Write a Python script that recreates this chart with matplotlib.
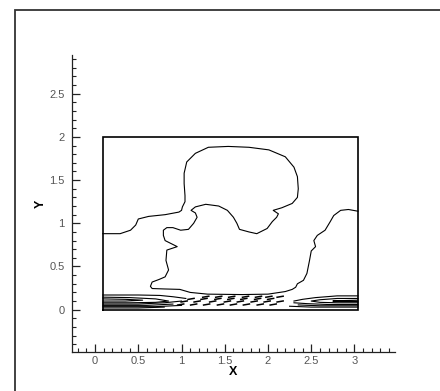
import matplotlib
matplotlib.use("Agg")
import matplotlib.pyplot as plt
from matplotlib.patches import Rectangle
from matplotlib.ticker import MultipleLocator

# Domain box
box_x = [0.09, 3.04]
box_y = [0.0, 2.0]

# Main contour line (left wall -> mushroom -> bottom -> right plume -> right wall)
main_x = [0.09, 0.29, 0.41, 0.47, 0.50, 0.62, 0.81, 0.97, 1.00, 1.01, 1.04, 1.04,
          1.03, 1.03, 1.06, 1.16, 1.31, 1.54, 1.78, 2.01, 2.20, 2.30, 2.34, 2.35,
          2.34, 2.28, 2.16, 2.06, 2.12, 2.10, 2.05, 1.99, 1.87, 1.78, 1.67, 1.64,
          1.60, 1.53, 1.43, 1.28, 1.16, 1.11, 1.16, 1.18, 1.14, 1.08, 0.99, 0.90,
          0.83, 0.79, 0.79, 0.81, 0.89, 0.95, 0.83, 0.82, 0.85, 0.81, 0.74, 0.66,
          0.64, 0.66, 0.80, 0.98, 1.10, 1.30, 1.70, 2.00, 2.20, 2.28, 2.32, 2.34,
          2.41, 2.45, 2.48, 2.50, 2.55, 2.53, 2.57, 2.66, 2.72, 2.76, 2.84, 2.93, 3.04]
main_y = [0.88, 0.88, 0.92, 0.98, 1.05, 1.08, 1.10, 1.13, 1.15, 1.19, 1.25, 1.32,
          1.46, 1.58, 1.71, 1.81, 1.88, 1.89, 1.88, 1.85, 1.77, 1.65, 1.54, 1.40,
          1.30, 1.23, 1.18, 1.15, 1.11, 1.07, 1.02, 0.94, 0.88, 0.90, 0.93, 1.00,
          1.07, 1.15, 1.20, 1.22, 1.19, 1.15, 1.12, 1.07, 1.00, 0.93, 0.92, 0.95,
          0.95, 0.92, 0.86, 0.80, 0.76, 0.73, 0.69, 0.57, 0.46, 0.38, 0.35, 0.32,
          0.27, 0.245, 0.24, 0.235, 0.20, 0.18, 0.175, 0.18, 0.21, 0.235, 0.26, 0.30,
          0.34, 0.42, 0.57, 0.68, 0.73, 0.80, 0.86, 0.92, 1.02, 1.09, 1.15, 1.16, 1.14]

# Near-wall contour lines, left group
band_left = [
    ([0.09, 0.50, 0.75, 0.90, 1.05], [0.17, 0.17, 0.165, 0.15, 0.13]),
    ([0.09, 0.40, 0.70, 0.85, 0.70, 0.40, 0.09], [0.145, 0.14, 0.125, 0.10, 0.085, 0.08, 0.08]),
    ([0.09, 0.35, 0.55, 0.35, 0.09], [0.125, 0.12, 0.11, 0.10, 0.10]),
    ([0.09, 0.50, 0.80, 1.00], [0.065, 0.065, 0.08, 0.10]),
    ([0.09, 0.60, 0.90], [0.05, 0.05, 0.065]),
    ([0.09, 0.70, 1.00], [0.035, 0.035, 0.05]),
    ([0.09, 0.50, 0.80], [0.02, 0.02, 0.03]),
]

# Near-wall contour lines, right group
band_right = [
    ([3.04, 2.80, 2.55, 2.40, 2.30], [0.16, 0.16, 0.14, 0.12, 0.10]),
    ([3.04, 2.80, 2.60, 2.50, 2.60, 2.80, 3.04], [0.13, 0.13, 0.115, 0.10, 0.085, 0.08, 0.08]),
    ([3.04, 2.85, 2.75, 2.85, 3.04], [0.11, 0.105, 0.10, 0.095, 0.095]),
    ([3.04, 2.70, 2.45, 2.30], [0.06, 0.06, 0.07, 0.08]),
    ([3.04, 2.60, 2.35], [0.045, 0.045, 0.055]),
    ([3.04, 2.50, 2.25], [0.03, 0.03, 0.04]),
]

# Small closed contours (dashes) in the middle of the bottom band
dash_x = [1.28, 1.43, 1.58, 1.74, 1.89, 2.01, 2.14,
          1.11, 1.26, 1.42, 1.57, 1.72, 1.88, 2.03,
          1.03, 1.18, 1.36, 1.53, 1.68, 1.84, 1.99, 2.14,
          0.99, 1.14, 1.29, 1.45, 1.60, 1.75, 1.91, 2.06]
dash_y = [0.15] * 7 + [0.125] * 7 + [0.095] * 8 + [0.06] * 8

fig = plt.figure(figsize=(4.4, 3.91), dpi=100)
ax = fig.add_axes([0.163, 0.0997, 0.735, 0.76])

ax.plot(box_x + box_x[::-1] + box_x[:1], [box_y[0]] * 2 + [box_y[1]] * 2 + [box_y[0]],
        color="black", lw=1.2, solid_joinstyle="miter")
ax.plot(main_x, main_y, color="black", lw=0.8)
for xs, ys in band_left + band_right:
    ax.plot(xs, ys, color="black", lw=0.8)
half = 0.035
for cx, cy in zip(dash_x, dash_y):
    ax.plot([cx - half, cx + half], [cy - 0.006, cy + 0.006], color="black", lw=1.1)

ax.set_xlim(-0.27, 3.47)
ax.set_ylim(-0.49, 2.95)
for side in ["top", "right"]:
    ax.spines[side].set_visible(False)
for side in ["left", "bottom"]:
    ax.spines[side].set_color("#222222")
    ax.spines[side].set_linewidth(0.9)

ax.xaxis.set_minor_locator(MultipleLocator(0.1))
ax.yaxis.set_minor_locator(MultipleLocator(0.1))
ax.set_xticks([0, 0.5, 1, 1.5, 2, 2.5, 3])
ax.set_xticklabels(["0", "0.5", "1", "1.5", "2", "2.5", "3"])
ax.set_yticks([0, 0.5, 1, 1.5, 2, 2.5])
ax.set_yticklabels(["0", "0.5", "1", "1.5", "2", "2.5"])
ax.tick_params(which="major", direction="in", length=6, width=0.9, color="#222222",
               labelsize=8, labelcolor="#555555")
ax.tick_params(which="minor", direction="in", length=3, width=0.8, color="#222222")
ax.tick_params(axis="x", which="major", pad=3)
ax.tick_params(axis="y", which="major", pad=5)
for lab in ax.get_xticklabels() + ax.get_yticklabels():
    lab.set_family("Liberation Sans")

ax.set_xlabel("X", fontsize=9, fontweight="bold", family="Liberation Sans", labelpad=0)
ax.set_ylabel("Y", fontsize=9, fontweight="bold", family="Liberation Sans", labelpad=2)

# Outer frame
fig.add_artist(Rectangle((15 / 440, -0.05), 1.1, (391 - 10) / 391 + 0.05,
                         transform=fig.transFigure, fill=False,
                         edgecolor="#333333", lw=1.3))

fig.savefig("out.png", dpi=100)
